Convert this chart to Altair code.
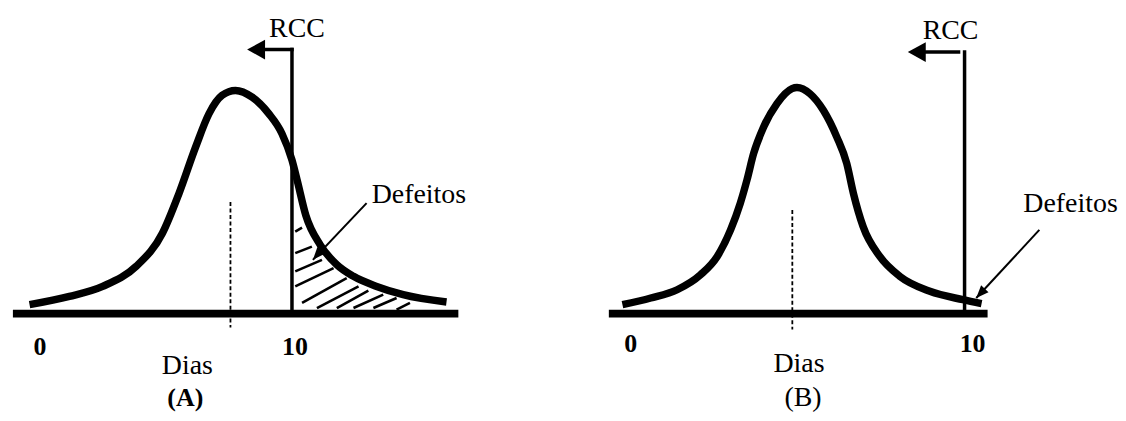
import altair as alt
import pandas as pd

FONT = "Liberation Serif"

# ---------------- shared vertical scale (relative frequency, peak of A = 1) ----------
Y_DOMAIN = [-0.442, 1.366]
PANEL_H = 405

# ---------------- Panel A ----------------
a_days = [-0.41, 1.17, 2.49, 3.81, 4.86, 5.52, 6.18, 6.71, 7.23, 7.76, 8.42, 9.08,
          9.60, 10.0, 10.2, 10.55, 11.12, 11.78, 12.44, 13.36, 14.41, 16.13]
a_freq = [0.040, 0.077, 0.122, 0.211, 0.360, 0.539, 0.747, 0.896, 0.978, 1.0, 0.970, 0.896,
          0.807, 0.688, 0.600, 0.440, 0.308, 0.219, 0.167, 0.122, 0.085, 0.052]
a_axis = [-1.07, 16.6]
a_mean = [7.56, 0.50, -0.0625]          # day, top, bottom of dashed mean line
a_rcc = [10.0, 1.183, 8.22, 10.0]       # RCC day, top, arrow tip day, arrow end day
a_def_arrow = [12.96, 0.495, 10.83, 0.241, 131.2]   # from day/freq -> tip day/freq, heading
a_hatch_d1 = [10.13, 10.13, 10.13, 10.13, 10.40, 10.99, 11.78, 12.44, 13.23, 14.15]
a_hatch_f1 = [0.367, 0.271, 0.189, 0.122, 0.048, 0.025, 0.025, 0.025, 0.025, 0.018]
a_hatch_d2 = [10.40, 10.79, 11.19, 11.65, 12.17, 12.64, 13.03, 13.62, 14.15, 14.68]
a_hatch_f2 = [0.385, 0.300, 0.241, 0.204, 0.159, 0.122, 0.103, 0.085, 0.070, 0.048]
a_labels = ["RCC", "Dias", "Defeitos", "0", "10", "(A)"]
a_label_d = [10.20, 5.85, 13.16, 0.0, 10.12, 5.77]
a_label_f = [1.241, -0.272, 0.496, -0.1875, -0.1875, -0.415]
a_x_domain = [-1.146, 17.431]
a_width = 470

# ---------------- Panel B ----------------
b_days = [-0.25, 0.60, 1.39, 2.09, 2.59, 2.99, 3.28, 3.48, 3.68, 3.98, 4.38, 4.83, 4.98,
          5.37, 5.77, 6.17, 6.47, 6.67, 6.96, 7.46, 8.06, 8.96, 9.95, 10.51]
b_freq = [0.040, 0.070, 0.107, 0.174, 0.256, 0.375, 0.494, 0.598, 0.717, 0.836, 0.941, 1.008, 1.013,
          0.985, 0.911, 0.792, 0.673, 0.539, 0.390, 0.256, 0.167, 0.100, 0.0625, 0.045]
b_axis = [-0.657, 10.69]
b_mean = [4.84, 0.464, -0.071]
b_rcc = [10.0, 1.172, 8.30, 9.82]
b_def_arrow = [12.24, 0.375, 10.35, 0.070, 132.8]
b_labels = ["RCC", "Dias", "Defeitos", "0", "10", "(B)"]
b_label_d = [9.58, 5.04, 11.76, 0.0, 10.24, 5.16]
b_label_f = [1.232, -0.263, 0.457, -0.170, -0.170, -0.415]
b_x_domain = [-0.896, 14.567]
b_width = 518

LEFT_HEAD = "M0,0L2,-1.1L2,1.1Z"      # arrow head pointing left, tip at origin
RIGHT_HEAD = "M0,0L-2,-0.8L-2,0.8Z"   # arrow head pointing right, tip at origin


def panel(days, freq, axis, mean, rcc, darrow, labels, ld, lf, xdom, width,
          bold_labels, hatch=None):
    xs = alt.Scale(domain=xdom, nice=False, zero=False)
    ys = alt.Scale(domain=Y_DOMAIN, nice=False, zero=False)

    def X(f):
        return alt.X(f, type="quantitative", scale=xs, axis=None)

    def Y(f):
        return alt.Y(f, type="quantitative", scale=ys, axis=None)

    layers = []
    if hatch is not None:
        hd = pd.DataFrame({"d1": hatch[0], "f1": hatch[1], "d2": hatch[2], "f2": hatch[3]})
        layers.append(alt.Chart(hd).mark_rule(color="black", strokeWidth=2.6, strokeCap="butt")
                      .encode(x=X("d1"), y=Y("f1"), x2="d2", y2="f2"))

    base = pd.DataFrame({"d1": [axis[0]], "d2": [axis[1]], "f": [0.0]})
    layers.append(alt.Chart(base).mark_rule(color="black", strokeWidth=8, strokeCap="butt")
                  .encode(x=X("d1"), x2="d2", y=Y("f")))

    curve = pd.DataFrame({"d": days, "f": freq})
    layers.append(alt.Chart(curve).mark_line(color="black", strokeWidth=7.5, strokeCap="butt",
                                             strokeJoin="round", interpolate="monotone")
                  .encode(x=X("d"), y=Y("f")))

    md = pd.DataFrame({"d": [mean[0]], "f1": [mean[1]], "f2": [mean[2]]})
    layers.append(alt.Chart(md).mark_rule(color="black", strokeWidth=1.8, strokeDash=[4, 2.5])
                  .encode(x=X("d"), y=Y("f1"), y2="f2"))

    rv = pd.DataFrame({"d": [rcc[0]], "f1": [rcc[1]], "f2": [0.0]})
    layers.append(alt.Chart(rv).mark_rule(color="black", strokeWidth=3.5, strokeCap="square")
                  .encode(x=X("d"), y=Y("f1"), y2="f2"))
    rh = pd.DataFrame({"d1": [rcc[2] + 0.3], "d2": [rcc[3]], "f": [rcc[1]]})
    layers.append(alt.Chart(rh).mark_rule(color="black", strokeWidth=3.5, strokeCap="square")
                  .encode(x=X("d1"), x2="d2", y=Y("f")))
    rp = pd.DataFrame({"d": [rcc[2]], "f": [rcc[1]]})
    layers.append(alt.Chart(rp).mark_point(shape=LEFT_HEAD, filled=True, size=324,
                                           color="black", opacity=1, strokeWidth=0)
                  .encode(x=X("d"), y=Y("f")))

    da = pd.DataFrame({"d1": [darrow[0]], "f1": [darrow[1]], "d2": [darrow[2]], "f2": [darrow[3]]})
    layers.append(alt.Chart(da).mark_rule(color="black", strokeWidth=2)
                  .encode(x=X("d1"), y=Y("f1"), x2="d2", y2="f2"))
    dp = pd.DataFrame({"d": [darrow[2]], "f": [darrow[3]]})
    layers.append(alt.Chart(dp).mark_point(shape=RIGHT_HEAD, filled=True, size=160,
                                           angle=darrow[4], color="black", opacity=1,
                                           strokeWidth=0)
                  .encode(x=X("d"), y=Y("f")))

    lab = pd.DataFrame({"label": labels, "d": ld, "f": lf})
    lab_left = lab[lab["label"] == "Defeitos"]
    lab_bold = lab[lab["label"].isin(bold_labels)]
    lab_norm = lab[~lab["label"].isin(bold_labels + ["Defeitos"])]

    layers.append(alt.Chart(lab_norm).mark_text(font=FONT, fontSize=28, align="center",
                                                baseline="alphabetic", color="black")
                  .encode(x=X("d"), y=Y("f"), text="label:N"))
    layers.append(alt.Chart(lab_left).mark_text(font=FONT, fontSize=28, align="left",
                                                baseline="alphabetic", color="black")
                  .encode(x=X("d"), y=Y("f"), text="label:N"))
    layers.append(alt.Chart(lab_bold).mark_text(font=FONT, fontSize=26, fontWeight="bold",
                                                align="center", baseline="alphabetic",
                                                color="black")
                  .encode(x=X("d"), y=Y("f"), text="label:N"))

    return alt.layer(*layers).properties(width=width, height=PANEL_H)


pa = panel(a_days, a_freq, a_axis, a_mean, a_rcc, a_def_arrow, a_labels, a_label_d,
           a_label_f, a_x_domain, a_width, ["0", "10", "(A)"],
           hatch=[a_hatch_d1, a_hatch_f1, a_hatch_d2, a_hatch_f2])
pb = panel(b_days, b_freq, b_axis, b_mean, b_rcc, b_def_arrow, b_labels, b_label_d,
           b_label_f, b_x_domain, b_width, ["0", "10"])

chart = alt.hconcat(pa, pb, spacing=122, bounds="flush", padding=0,
                    background="white").configure_view(stroke=None)

chart.save("out.html", embed_options={"renderer": "svg", "actions": False})
